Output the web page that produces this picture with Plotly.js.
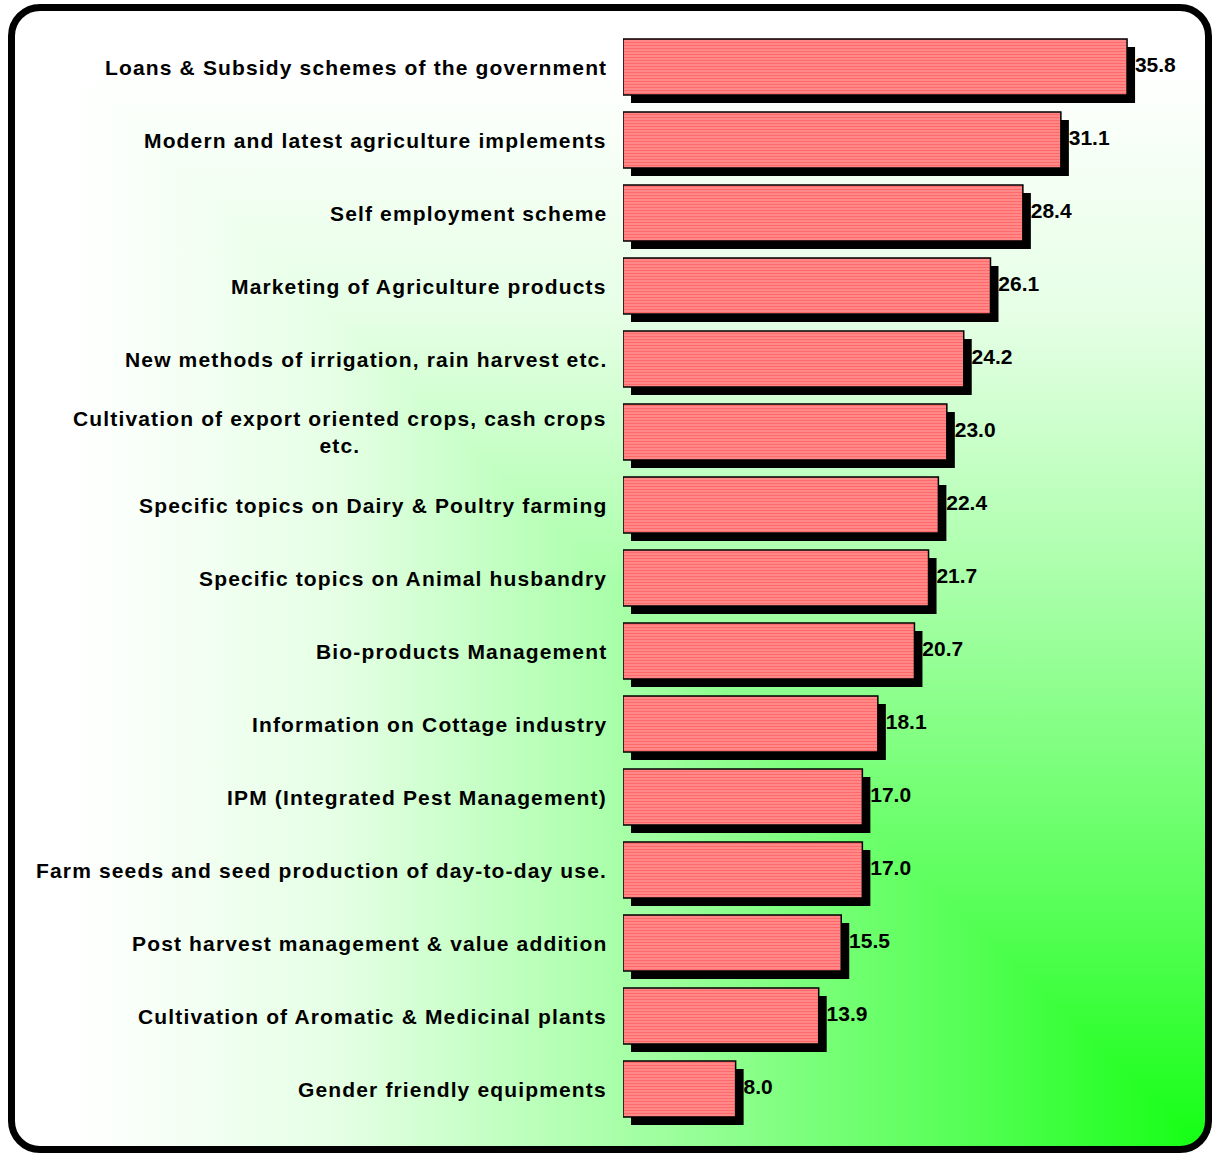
<!DOCTYPE html>
<html>
<head>
<meta charset="utf-8">
<script src="https://cdn.plot.ly/plotly-3.0.1.min.js"></script>
<style>
  html, body { margin: 0; padding: 0; background: #ffffff; }
  #frame {
    position: absolute; left: 8px; top: 4px;
    width: 1204px; height: 1149px; box-sizing: border-box;
    border: 7px solid #000000; border-radius: 32px;
    background-image:
      linear-gradient(to left, rgb(20,255,20) 0%, rgb(85,255,85) 20%, rgb(170,255,170) 50%, rgb(229,255,229) 73%, rgb(255,255,255) 95%),
      linear-gradient(to top, rgb(20,255,20) 0%, rgb(85,255,85) 20%, rgb(170,255,170) 50%, rgb(229,255,229) 73%, rgb(255,255,255) 95%);
    background-blend-mode: lighten;
  }
  #chart { position: absolute; left: 0; top: 0; width: 1212px; height: 1154px; }
  .annotation-text { letter-spacing: 1.15px; }
</style>
</head>
<body>
<div id="frame"></div>
<div id="chart"></div>
<script>
// ---- data ----
var categories = [
  "Loans & Subsidy schemes of the government",
  "Modern and latest agriculture implements",
  "Self employment scheme",
  "Marketing of Agriculture products",
  "New methods of irrigation, rain harvest etc.",
  "Cultivation of export oriented crops, cash crops<br>etc.",
  "Specific topics on Dairy & Poultry farming",
  "Specific topics on Animal husbandry",
  "Bio-products Management",
  "Information on Cottage industry",
  "IPM (Integrated Pest Management)",
  "Farm seeds and seed production of day-to-day use.",
  "Post harvest management & value addition",
  "Cultivation of Aromatic & Medicinal plants",
  "Gender friendly equipments"
];
var values = [35.8, 31.1, 28.4, 26.1, 24.2, 23.0, 22.4, 21.7, 20.7, 18.1, 17.0, 17.0, 15.5, 13.9, 8.0];

// ---- geometry (pixels) ----
var W = 1212, H = 1154;
var x0px = 623, pxPerUnit = 14.08, xMax = 40;
var yTopPx = 30.5, yBotPx = 1125.5;
var slotPx = (yBotPx - yTopPx) / categories.length;
var barFrac = 56 / slotPx;
var shadowPx = 8;

var font = { family: "Liberation Sans, Arial, sans-serif", size: 21, color: "#000000", weight: "bold" };

var shadow = {
  type: "bar", orientation: "h",
  y: categories, x: values,
  base: shadowPx / pxPerUnit,
  width: barFrac, offset: -barFrac / 2 + shadowPx / slotPx,
  marker: { color: "#000000", line: { width: 0 } },
  hoverinfo: "skip", showlegend: false
};

var bars = {
  type: "bar", orientation: "h",
  y: categories, x: values,
  width: barFrac,
  marker: {
    color: "#ff6666",
    line: { color: "#000000", width: 1.5 },
    pattern: { shape: "-", fgcolor: "#ffa8a8", bgcolor: "#ff6262", size: 3, solidity: 0.4 }
  },
  showlegend: false
};

var labels = {
  type: "scatter", mode: "markers+text",
  y: categories, x: values,
  texttemplate: "%{x:.1f}", textposition: "middle right",
  textfont: font,
  marker: { size: 11, opacity: 0 },
  cliponaxis: false, hoverinfo: "skip", showlegend: false
};

var annotations = categories.map(function (c) {
  return {
    text: c, x: 0, xref: "x", y: c, yref: "y",
    xanchor: "right", yanchor: "middle", xshift: -14, align: "center",
    showarrow: false, font: font
  };
});

var layout = {
  width: W, height: H,
  margin: { l: 0, r: 0, t: 0, b: 0, pad: 0 },
  paper_bgcolor: "rgba(0,0,0,0)", plot_bgcolor: "rgba(0,0,0,0)",
  barmode: "overlay",
  xaxis: {
    domain: [x0px / W, (x0px + xMax * pxPerUnit) / W],
    range: [0, xMax], showgrid: false, zeroline: false, showticklabels: false, showline: false, ticks: ""
  },
  yaxis: {
    domain: [1 - yBotPx / H, 1 - yTopPx / H],
    type: "category", categoryorder: "array", categoryarray: categories,
    range: [categories.length - 0.5, -0.5],
    showgrid: false, zeroline: false, showticklabels: false, showline: false, ticks: ""
  },
  annotations: annotations,
  showlegend: false
};

Plotly.newPlot("chart", [shadow, bars, labels], layout, { displayModeBar: false, staticPlot: true });
</script>
</body>
</html>
